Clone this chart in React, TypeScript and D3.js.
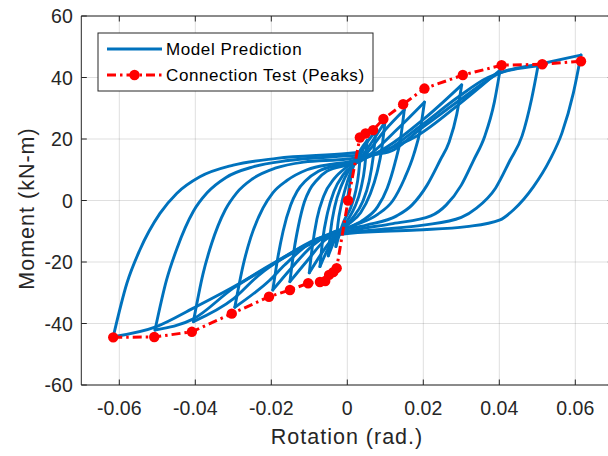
import React from "react";
import * as d3 from "d3";

// ---- axis ticks ----
const thetaTicks = [-0.06, -0.04, -0.02, 0, 0.02, 0.04, 0.06];
const thetaTickLabels = ["-0.06", "-0.04", "-0.02", "0", "0.02", "0.04", "0.06"];
const momentTicks = [-60, -40, -20, 0, 20, 40, 60];
const momentTickLabels = ["-60", "-40", "-20", "0", "20", "40", "60"];

// ---- Connection test peaks (rotation rad, moment kN-m) ----
const testTheta = [-0.0616, -0.0508, -0.0409, -0.0304, -0.0206, -0.0151, -0.0103, -0.0072, -0.0058, -0.0048, -0.0037, -0.0028, 0.0002, 0.0033, 0.0048, 0.0068, 0.0095, 0.0147, 0.0203, 0.0304, 0.0406, 0.0513, 0.0615];
const testMoment = [-44.5, -44.4, -42.7, -36.8, -31.3, -29.1, -26.9, -26.5, -26.2, -24.2, -23.3, -22.0, 0.0, 20.5, 21.8, 22.9, 26.5, 31.3, 36.4, 40.8, 44.0, 44.3, 45.3];

// ---- Model prediction: hysteresis branches [theta, moment] ----
const modelInitial = [[0, 0], [0.001, 8], [0.0035, 16]];
const modelDescending = [
  [[0.0035, 16], [0.003, 9], [0.0022, 3], [0.001, -2], [-0.001, -7], [-0.003, -15]],
  [[0.0052, 19.5], [0.0046, 11], [0.0036, 4], [0.002, -2], [0, -6.5], [-0.003, -12], [-0.005, -18]],
  [[0.0075, 22.5], [0.0068, 14], [0.0057, 6], [0.004, -0.5], [0.0015, -5.5], [-0.0015, -9.5], [-0.005, -15.5], [-0.0072, -21.5]],
  [[0.0099, 25.5], [0.0091, 17], [0.0078, 9], [0.006, 2], [0.0035, -4], [0, -8], [-0.004, -12.5], [-0.0072, -18], [-0.010, -23.5]],
  [[0.015, 29.5], [0.014, 20], [0.0125, 12], [0.0105, 4], [0.008, -2], [0.004, -6.5], [-0.001, -9.5], [-0.006, -13], [-0.0105, -19.5], [-0.0151, -26.4]],
  [[0.0203, 32], [0.0192, 23], [0.0175, 15], [0.015, 7], [0.012, 0], [0.008, -4.5], [0.002, -8], [-0.004, -10.5], [-0.009, -14.5], [-0.0151, -22.5], [-0.0196, -29.1]],
  [[0.0301, 37.6], [0.0288, 28], [0.0268, 19], [0.0244, 13], [0.021, 5], [0.017, -1.5], [0.013, -5], [0.005, -8], [-0.004, -10.5], [-0.010, -14], [-0.0165, -21], [-0.0205, -26], [-0.0296, -34.7]],
  [[0.0402, 42.4], [0.0387, 32], [0.0362, 21], [0.0332, 13], [0.030, 5], [0.026, -1.5], [0.022, -5], [0.012, -7.5], [0.002, -9.5], [-0.008, -12.5], [-0.016, -18], [-0.0235, -24.5], [-0.030, -32], [-0.0405, -39.4]],
  [[0.0502, 43.8], [0.0485, 33], [0.046, 21], [0.0428, 13], [0.039, 4], [0.034, -2.5], [0.030, -5.5], [0.020, -8], [0.008, -9.5], [-0.003, -11], [-0.012, -15.5], [-0.020, -21], [-0.030, -28.5], [-0.0405, -38.5], [-0.0506, -42.1]],
  [[0.0615, 47.3], [0.0595, 35], [0.0565, 22], [0.0533, 13.2], [0.049, 4.5], [0.0437, -3.1], [0.0402, -6.3], [0.0314, -8.5], [0.0183, -9.6], [0.0007, -10.7], [-0.008, -13], [-0.0195, -20.4], [-0.0291, -27.5], [-0.0405, -35], [-0.0502, -41], [-0.0616, -44.3]],
];
const modelAscending = [
  [[-0.003, -15], [-0.0025, -8], [-0.0015, -1], [0, 6], [0.0015, 11], [0.0035, 16.5], [0.0052, 19.5]],
  [[-0.005, -18], [-0.0044, -10], [-0.0033, -2], [-0.0015, 5], [0.0005, 10], [0.003, 14], [0.005, 18.5], [0.0075, 22.5]],
  [[-0.0072, -21.5], [-0.0065, -13], [-0.0052, -4], [-0.0035, 3], [-0.001, 8.5], [0.003, 13], [0.007, 20], [0.0099, 25.5]],
  [[-0.010, -23.5], [-0.0092, -15], [-0.008, -6], [-0.0062, 1.5], [-0.0035, 7], [0, 11], [0.004, 14], [0.010, 23], [0.015, 29.5]],
  [[-0.0151, -26.4], [-0.014, -16], [-0.0129, -8.5], [-0.0113, -0.5], [-0.0099, 3.5], [-0.0081, 6.5], [-0.0054, 9.5], [0, 11.5], [0.003, 12.5], [0.006, 15], [0.013, 23], [0.0203, 32]],
  [[-0.0196, -29.1], [-0.0182, -18], [-0.0169, -10], [-0.0149, -1.5], [-0.0132, 3], [-0.0109, 6.5], [-0.0076, 9.5], [-0.002, 11.5], [0.002, 12.5], [0.007, 15], [0.0209, 27.3], [0.0301, 37.6]],
  [[-0.0296, -34.7], [-0.0274, -21], [-0.0254, -12], [-0.0222, -2.5], [-0.0196, 2.5], [-0.0159, 6.5], [-0.0106, 10], [-0.004, 11.8], [0, 12.5], [0.008, 15.5], [0.0183, 21], [0.0297, 31.6], [0.0402, 42.4]],
  [[-0.0405, -39.4], [-0.038, -24], [-0.0357, -14], [-0.0321, -3], [-0.0291, 2.5], [-0.025, 7], [-0.019, 10.5], [-0.0115, 12.5], [0, 13.5], [0.009, 15.5], [0.019, 24], [0.029, 33.5], [0.037, 40], [0.0502, 43.8]],
  [[-0.0506, -42.1], [-0.0476, -26], [-0.0448, -15.5], [-0.0405, -3.5], [-0.0369, 2.5], [-0.0319, 7.5], [-0.0246, 11], [-0.0156, 13], [0, 14.5], [0.01, 15.5], [0.02, 24], [0.03, 33], [0.0402, 41.5], [0.0505, 44.3], [0.0615, 47.3]],
  [[-0.0616, -44.3], [-0.058, -26.9], [-0.0546, -16.1], [-0.0493, -4.2], [-0.0449, 2.3], [-0.0388, 7.7], [-0.030, 11.5], [-0.0186, 13.7], [0, 15.3], [0.004, 15.8]],
];

const legendLabels = ["Model Prediction", "Connection Test (Peaks)"];

const W = 608;
const H = 456;
const BLUE = "#0072BD";
const RED = "#FF0000";
const AX = "#262626";
const FONT = "'Liberation Sans', Arial, Helvetica, sans-serif";

export default function App() {
  const x = d3.scaleLinear().domain([-0.07, 0.07]).range([81.3, 613.3]);
  const y = d3.scaleLinear().domain([-60, 60]).range([385, 16]);
  const [x0, x1] = x.range();
  const [y0, y1] = y.range();

  const branchLine = d3
    .line<number[]>()
    .x((d) => x(d[0]))
    .y((d) => y(d[1]))
    .curve(d3.curveMonotoneX);

  const testPts = testTheta.map((t, i) => [t, testMoment[i]]);
  const testLine = d3
    .line<number[]>()
    .x((d) => x(d[0]))
    .y((d) => y(d[1]));

  const branches = [modelInitial];
  for (let i = 0; i < modelDescending.length; i++) {
    branches.push(modelDescending[i]);
    if (modelAscending[i]) branches.push(modelAscending[i]);
  }
  const sorted = branches.map((b) => b.slice().sort((a, c) => a[0] - c[0]));

  const tickLen = 5.5;

  return (
    <div style={{ position: "absolute", left: 0, top: 0 }}>
      <svg width={W} height={H} style={{ display: "block", background: "#fff" }}>
        <rect x={0} y={0} width={W} height={H} fill="#fff" />
        {/* grid */}
        <g stroke={AX} strokeOpacity={0.15} strokeWidth={1}>
          {thetaTicks.map((t) => (
            <line key={"gx" + t} x1={x(t)} x2={x(t)} y1={y1} y2={y0} />
          ))}
          {momentTicks.map((m) => (
            <line key={"gy" + m} x1={x0} x2={x1} y1={y(m)} y2={y(m)} />
          ))}
        </g>

        {/* model prediction */}
        <g fill="none" stroke={BLUE} strokeWidth={2.9} strokeLinejoin="round" strokeLinecap="round">
          {sorted.map((b, i) => (
            <path key={"b" + i} d={branchLine(b) || ""} />
          ))}
        </g>

        {/* test peaks */}
        <path
          d={testLine(testPts) || ""}
          fill="none"
          stroke={RED}
          strokeWidth={3}
          strokeDasharray="9 4 2.5 4"
        />
        <g fill={RED}>
          {testPts.map((p, i) => (
            <circle key={"p" + i} cx={x(p[0])} cy={y(p[1])} r={5.2} />
          ))}
        </g>

        {/* axes box */}
        <g stroke={AX} strokeWidth={1} fill="none">
          <line x1={x0} x2={x1} y1={y0} y2={y0} />
          <line x1={x0} x2={x1} y1={y1} y2={y1} />
          <line x1={x0} x2={x0} y1={y0} y2={y1} />
          <line x1={x1} x2={x1} y1={y0} y2={y1} />
          {thetaTicks.map((t) => (
            <g key={"tx" + t}>
              <line x1={x(t)} x2={x(t)} y1={y0} y2={y0 - tickLen} />
              <line x1={x(t)} x2={x(t)} y1={y1} y2={y1 + tickLen} />
            </g>
          ))}
          {momentTicks.map((m) => (
            <g key={"ty" + m}>
              <line x1={x0} x2={x0 + tickLen} y1={y(m)} y2={y(m)} />
              <line x1={x1} x2={x1 - tickLen} y1={y(m)} y2={y(m)} />
            </g>
          ))}
        </g>

        {/* tick labels */}
        <g fontFamily={FONT} fontSize={19.5} fill={AX}>
          {thetaTicks.map((t, i) => (
            <text key={"lx" + t} x={x(t)} y={y0 + 30} textAnchor="middle">
              {thetaTickLabels[i]}
            </text>
          ))}
          {momentTicks.map((m, i) => (
            <text key={"ly" + m} x={x0 - 8.5} y={y(m) + 7} textAnchor="end">
              {momentTickLabels[i]}
            </text>
          ))}
        </g>

        {/* axis labels */}
        <text
          x={347}
          y={444}
          textAnchor="middle"
          fontFamily={FONT}
          fontSize={21.5}
          letterSpacing={1}
          fill={AX}
        >
          Rotation (rad.)
        </text>
        <text
          transform={`translate(34, ${y(0) + 8}) rotate(-90)`}
          textAnchor="middle"
          fontFamily={FONT}
          fontSize={21.5}
          letterSpacing={1}
          fill={AX}
        >
          Moment (kN-m)
        </text>

        {/* legend */}
        <g>
          <rect x={98} y={33} width={275} height={58} fill="#fff" stroke={AX} strokeWidth={1} />
          <line x1={107} x2={162} y1={49} y2={49} stroke={BLUE} strokeWidth={3} />
          <line x1={107} x2={162} y1={75} y2={75} stroke={RED} strokeWidth={3} strokeDasharray="9 4 2.5 4" />
          <circle cx={134.5} cy={75} r={5.2} fill={RED} />
          <g fontFamily={FONT} fontSize={17} fill="#000" letterSpacing={0.6}>
            <text x={166} y={55}>{legendLabels[0]}</text>
            <text x={166} y={81}>{legendLabels[1]}</text>
          </g>
        </g>
      </svg>
    </div>
  );
}
